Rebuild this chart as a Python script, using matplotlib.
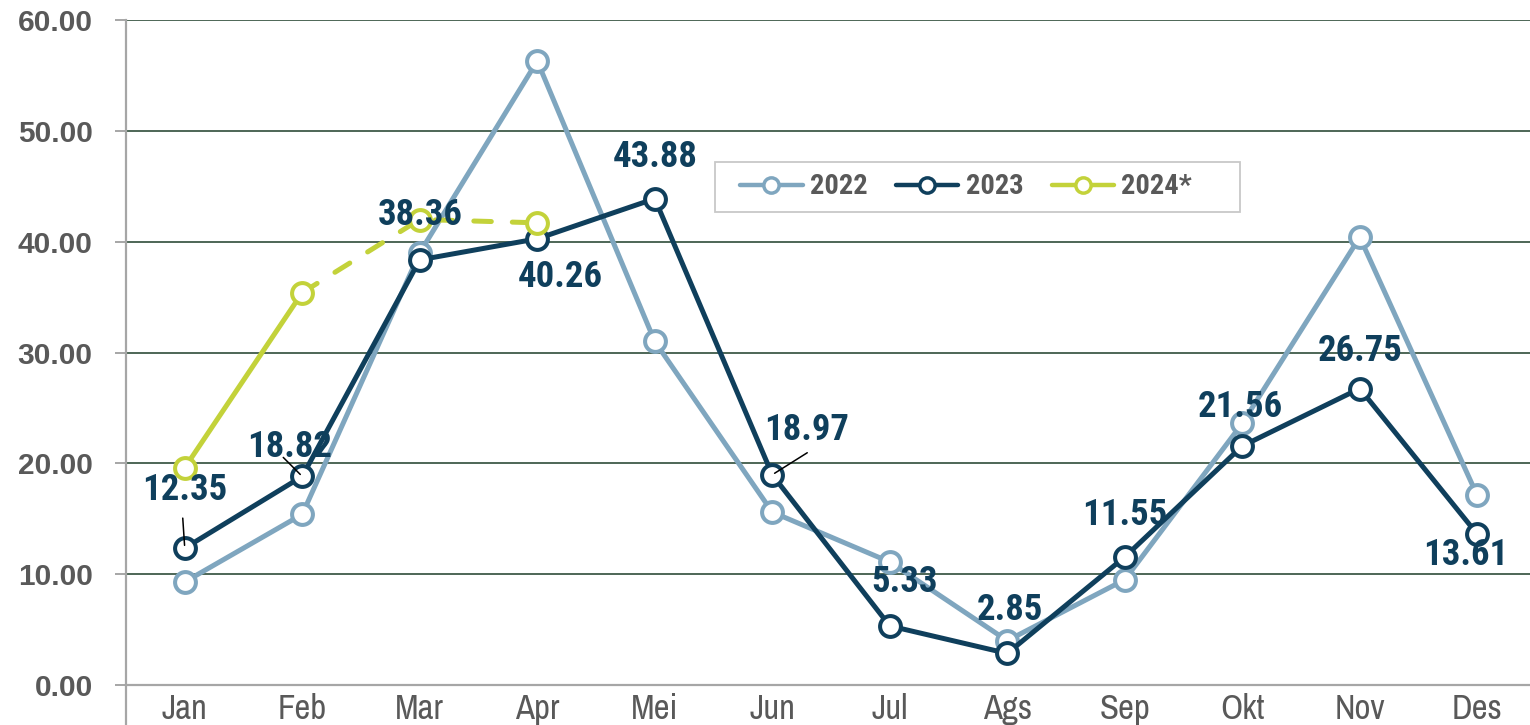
import matplotlib
matplotlib.use("Agg")
import matplotlib.pyplot as plt
from matplotlib.lines import Line2D
from matplotlib.patches import Rectangle
from matplotlib import font_manager as fm

months = ["Jan", "Feb", "Mar", "Apr", "Mei", "Jun", "Jul", "Ags", "Sep", "Okt", "Nov", "Des"]
v2022 = [9.3, 15.4, 39.0, 56.3, 31.0, 15.6, 11.1, 4.0, 9.5, 23.6, 40.4, 17.1]
v2023 = [12.35, 18.82, 38.36, 40.26, 43.88, 18.97, 5.33, 2.85, 11.55, 21.56, 26.75, 13.61]
v2024 = [19.6, 35.4, 42.0, 41.7]
yticks = [0, 10, 20, 30, 40, 50, 60]


def pick(prefs, bold=False):
    for p in prefs:
        ws = [f.weight for f in fm.fontManager.ttflist if f.name == p]
        ws = [w if isinstance(w, int) else (700 if w == "bold" else 400) for w in ws]
        if ws and (not bold or max(ws) >= 700):
            return [p, "DejaVu Sans"]
    return ["DejaVu Sans"]


NARROW_PREFS = ["Liberation Sans Narrow", "Arial Narrow", "Archivo Narrow", "Roboto Condensed",
                "PT Sans Narrow", "Barlow Semi Condensed", "Sofia Sans Condensed",
                "Barlow Condensed", "Saira SemiCondensed"]
NARROW = pick(NARROW_PREFS)
NARROW_B = pick(NARROW_PREFS, bold=True)
ARIAL = pick(["Liberation Sans", "Arimo", "Arial", "Helvetica"], bold=True)

C22 = "#7fa6bf"
C23 = "#0f3f5c"
C24 = "#c3d23a"
GRID = "#4d6656"
AX = "#a6a6a6"
TXT = "#595959"

W, H = 1530, 725
fig = plt.figure(figsize=(W / 100, H / 100), dpi=100)
ax = fig.add_axes([126 / W, 40 / H, 1410 / W, 665 / H])
x = list(range(len(months)))

ax.set_xlim(-0.5, 11.5)
ax.set_ylim(0, 60)

for yv in yticks[1:]:
    ax.axhline(yv, color=GRID, lw=1.4, zorder=1)

lw = 3.6
ms = 15
mew = 2.9
ax.plot(x, v2022, color=C22, lw=lw, marker="o", ms=ms, mfc="white", mec=C22, mew=mew, zorder=3)
ax.plot(x, v2023, color=C23, lw=lw, marker="o", ms=ms, mfc="white", mec=C23, mew=mew, zorder=4)
x24 = x[:len(v2024)]
ax.plot(x24[:2], v2024[:2], color=C24, lw=lw, zorder=5, solid_capstyle="round")
ax.plot(x24[1:], v2024[1:], color=C24, lw=lw, ls=(0, (3.5, 4.2)), dash_capstyle="round", zorder=5)
ax.plot(x24, v2024, ls="none", marker="o", ms=ms, mfc="white", mec=C24, mew=mew, zorder=5)

# data labels for 2023 (offsets in pixels)
offsets = [(0, 58), (-13, 29), (0, 45), (23, -38), (0, 42), (34, 45),
           (15, 44), (3, 43), (0, 42), (-2, 39), (0, 38), (-12, -21)]
for xi, v, (dx, dy) in zip(x, v2023, offsets):
    ax.annotate(f"{v:.2f}", xy=(xi, v), xytext=(dx, dy), textcoords="offset pixels",
                ha="center", va="center", fontsize=26.5, fontweight="bold",
                family=NARROW_B, color=C23, zorder=7)

leaders = {0: (-2, 30), 1: (-19, 19), 5: (35, 22)}
for i, (dx, dy) in leaders.items():
    ax.annotate("", xy=(x[i], v2023[i]), xytext=(dx, dy), textcoords="offset pixels",
                arrowprops=dict(arrowstyle="-", color="black", lw=1.1, shrinkA=0, shrinkB=2),
                zorder=8)

for s in ["top", "right"]:
    ax.spines[s].set_visible(False)
ax.spines["left"].set_color(AX)
ax.spines["left"].set_linewidth(1.6)
ax.spines["left"].set_bounds(-3.7, 60)
ax.spines["bottom"].set_color(AX)
ax.spines["bottom"].set_linewidth(1.6)

ax.set_yticks(yticks)
ax.set_yticklabels([f"{t:.2f}" for t in yticks], fontsize=21.5, fontweight="bold",
                   family=ARIAL, color=TXT)
ax.tick_params(axis="y", length=8, width=1.4, color=AX, pad=16)

ax.set_xticks(x)
ax.set_xticklabels(months, fontsize=25, family=NARROW, color=TXT)
ax.tick_params(axis="x", length=0, pad=6)

# legend frame (drawn separately for Excel-like padding)
fig.patches.append(Rectangle((715 / W, 1 - 212 / H), 525 / W, 50 / H,
                             transform=fig.transFigure, facecolor="white",
                             edgecolor="#c8c8c8", lw=1.3, zorder=9))
handles = [
    Line2D([], [], color=c, lw=3.2, marker="o", ms=11, mfc="white", mec=c, mew=2.5,
           solid_capstyle="round")
    for c in (C22, C23, C24)
]
leg = fig.legend(handles, ["2022", "2023", "2024*"], loc="center",
                 bbox_to_anchor=(966 / W, 1 - 187 / H), ncol=3,
                 frameon=False, handlelength=2.2, handletextpad=0.25, columnspacing=1.0,
                 borderpad=0.3, prop={"family": NARROW_B, "weight": "bold", "size": 20.5})
leg.set_zorder(10)
for t in leg.get_texts():
    t.set_color(TXT)

fig.savefig("out.png", dpi=100)
